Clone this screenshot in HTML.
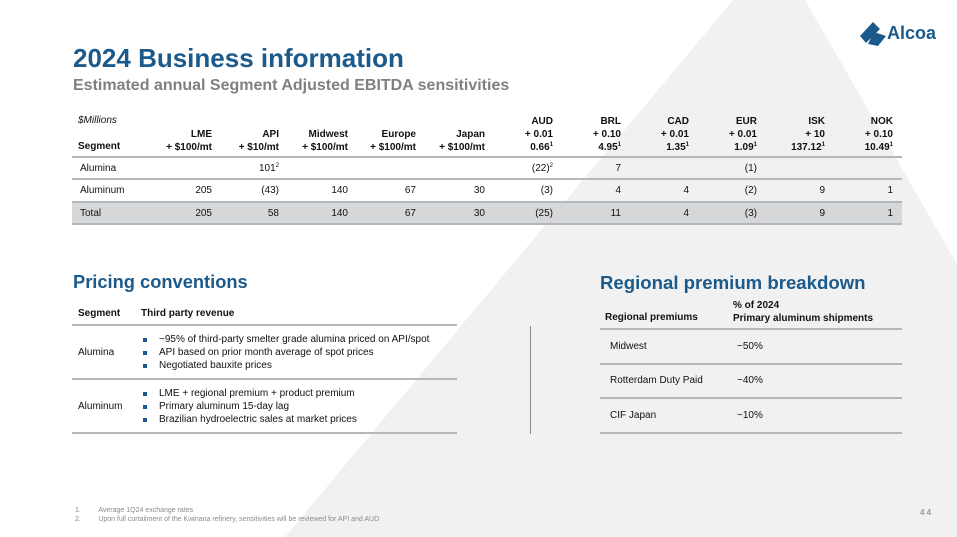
<!DOCTYPE html>
<html><head><meta charset="utf-8"><style>
body{margin:0;width:957px;height:537px;overflow:hidden;background:#fff;font-family:"Liberation Sans",sans-serif;position:relative}
.a{position:absolute;white-space:nowrap}
.hl{position:absolute;height:2px;background:#b4b8bc}
.t{font-size:10px;color:#111}
.b{font-weight:bold}
.r{text-align:right}
sup{font-size:6px;vertical-align:4px;line-height:0}
.bl{position:absolute;width:4px;height:4px;background:#1f5a8e}
</style></head><body>
<svg class="a" style="left:0;top:0" width="957" height="537"><polygon points="733,0 805,0 957,264 957,537 285,537" fill="#f1f1f1"/></svg>

<div class="a b" style="left:73px;top:43px;font-size:26px;color:#1b5a8a">2024 Business information</div>
<div class="a b" style="left:73px;top:77px;font-size:16px;color:#808080">Estimated annual Segment Adjusted EBITDA sensitivities</div>

<div class="a" style="left:860px;top:22px;width:80px;height:26px">
<svg width="30" height="26" style="position:absolute;left:0;top:0"><polygon points="13,0 20,7 6,21 0,14" fill="#1b5a8a"/><polygon points="14,10 26,14 18,24 8,22" fill="#1b5a8a"/></svg>
<span class="a b" style="left:27px;top:1px;font-size:18px;color:#1b5a8a">Alcoa</span></div>

<div id="sens"></div>

<div class="a b" style="left:73px;top:271px;font-size:18.3px;color:#1b5a8a">Pricing conventions</div>
<div class="a t b" style="left:78px;top:308px">Segment</div>
<div class="a t b" style="left:141px;top:308px">Third party revenue</div>
<div class="hl" style="left:72px;top:324px;width:385px"></div>
<div class="a t" style="left:78px;top:347px">Alumina</div>
<div class="bl" style="left:143px;top:338px"></div><div class="a t" style="left:159px;top:334px">~95% of third-party smelter grade alumina priced on API/spot</div>
<div class="bl" style="left:143px;top:351px"></div><div class="a t" style="left:159px;top:347px">API based on prior month average of spot prices</div>
<div class="bl" style="left:143px;top:364px"></div><div class="a t" style="left:159px;top:360px">Negotiated bauxite prices</div>
<div class="hl" style="left:72px;top:378px;width:385px"></div>
<div class="a t" style="left:78px;top:401px">Aluminum</div>
<div class="bl" style="left:143px;top:392px"></div><div class="a t" style="left:159px;top:388px">LME + regional premium + product premium</div>
<div class="bl" style="left:143px;top:405px"></div><div class="a t" style="left:159px;top:401px">Primary aluminum 15-day lag</div>
<div class="bl" style="left:143px;top:418px"></div><div class="a t" style="left:159px;top:414px">Brazilian hydroelectric sales at market prices</div>
<div class="hl" style="left:72px;top:432px;width:385px"></div>

<div class="a" style="left:530px;top:326px;width:1px;height:108px;background:#8a8a8a"></div>

<div class="a b" style="left:600px;top:272px;font-size:18.6px;color:#1b5a8a">Regional premium breakdown</div>
<div class="a t b" style="left:605px;top:312px">Regional premiums</div>
<div class="a t b" style="left:733px;top:299px;line-height:13px">% of 2024<br>Primary aluminum shipments</div>
<div class="hl" style="left:600px;top:328px;width:302px"></div>
<div class="a t" style="left:610px;top:341px">Midwest</div><div class="a t" style="left:737px;top:341px">~50%</div>
<div class="hl" style="left:600px;top:363px;width:302px"></div>
<div class="a t" style="left:610px;top:375px">Rotterdam Duty Paid</div><div class="a t" style="left:737px;top:375px">~40%</div>
<div class="hl" style="left:600px;top:397px;width:302px"></div>
<div class="a t" style="left:610px;top:410px">CIF Japan</div><div class="a t" style="left:737px;top:410px">~10%</div>
<div class="hl" style="left:600px;top:432px;width:302px"></div>

<div class="a" style="left:75px;top:506px;font-size:7px;color:#8a8a8a;line-height:9px">1.&nbsp;&nbsp;&nbsp;&nbsp;&nbsp;&nbsp;&nbsp;&nbsp;&nbsp;Average 1Q24 exchange rates<br>2.&nbsp;&nbsp;&nbsp;&nbsp;&nbsp;&nbsp;&nbsp;&nbsp;&nbsp;Upon full curtailment of the Kwinana refinery, sensitivities will be reviewed for API and AUD</div>
<div class="a b" style="left:920px;top:508px;font-size:8px;color:#999">4 4</div>

<script>
const headers=[["LME","+ $100/mt",""],["API","+ $10/mt",""],["Midwest","+ $100/mt",""],["Europe","+ $100/mt",""],["Japan","+ $100/mt",""],["AUD","+ 0.01","0.66<sup>1</sup>"],["BRL","+ 0.10","4.95<sup>1</sup>"],["CAD","+ 0.01","1.35<sup>1</sup>"],["EUR","+ 0.01","1.09<sup>1</sup>"],["ISK","+ 10","137.12<sup>1</sup>"],["NOK","+ 0.10","10.49<sup>1</sup>"]];
const rowLabels=["Alumina","Aluminum","Total"];
const alumina=["","101<sup>2</sup>","","","","(22)<sup>2</sup>","7","","(1)","",""];
const aluminum=["205","(43)","140","67","30","(3)","4","4","(2)","9","1"];
const total=["205","58","140","67","30","(25)","11","4","(3)","9","1"];
const colRight=[212,279,348,416,485,553,621,689,757,825,893];
const root=document.getElementById('sens');
function add(html,style,cls){const d=document.createElement('div');d.className='a '+(cls||'');d.style.cssText=style;d.innerHTML=html;root.appendChild(d);return d;}
add('$Millions','left:78px;top:115px;font-style:italic','t');
headers.forEach((h,i)=>{const lines=h[2]?h:["",h[0],h[1]];
 const d=add(lines.join('<br>'),'right:'+(957-colRight[i])+'px;top:115px;line-height:13px;text-align:right','t b');
 
 });
add('Segment','left:78px;top:141px','t b');
const rows=[alumina,aluminum,total];const tops=[163,185,208];
add('','left:72px;top:202px;width:830px;height:22px;background:#d5d7d9');
[156,178,201,223].forEach(y=>{const l=document.createElement('div');l.className='hl';l.style.cssText='left:72px;top:'+y+'px;width:830px';root.appendChild(l);});
rows.forEach((r,ri)=>{const lab=add(rowLabels[ri],'left:80px;top:'+tops[ri]+'px','t');
 
 
 r.forEach((v,i)=>{if(!v)return;const c=add(v,'right:'+(957-colRight[i])+'px;top:'+tops[ri]+'px','t');
 
 });});
</script>
</body></html>
